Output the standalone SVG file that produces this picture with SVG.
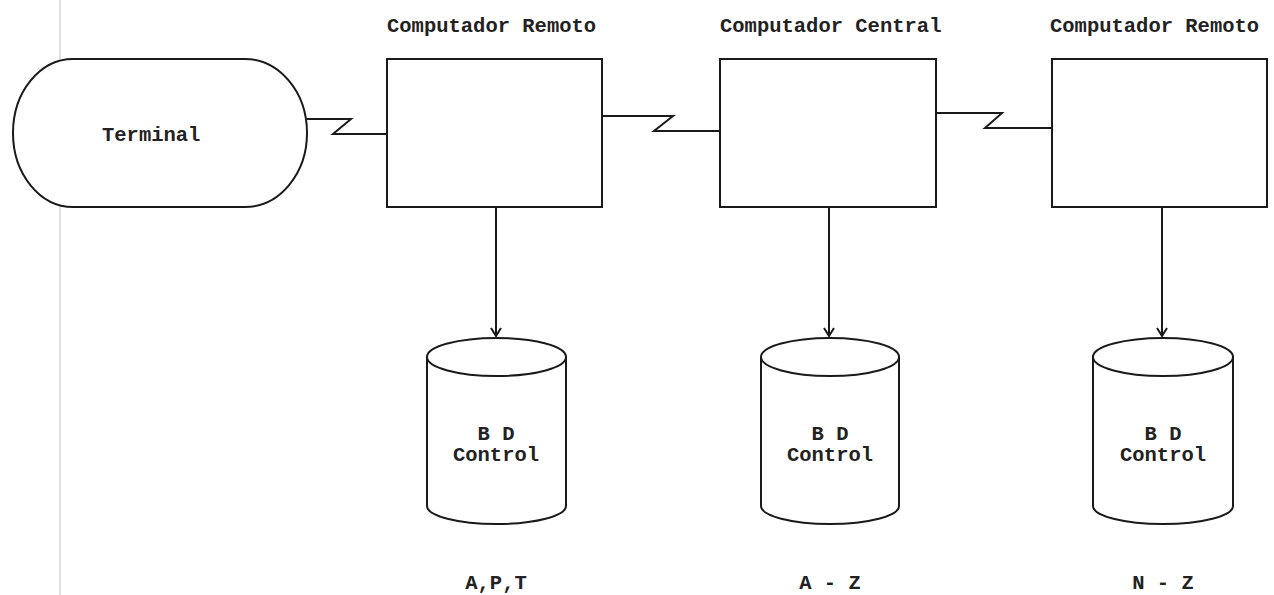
<svg xmlns="http://www.w3.org/2000/svg" width="1274" height="595" viewBox="0 0 1274 595">
  <style>
    .shape { fill: #fff; stroke: #1a1a1a; stroke-width: 2; }
    .line { fill: none; stroke: #1a1a1a; stroke-width: 2; }
    .lbl { font-family: "Liberation Mono", "DejaVu Sans Mono", monospace; font-weight: bold; font-size: 20.5px; fill: #222; }
    .mid { text-anchor: middle; }
  </style>
  <defs>
    <marker id="arr" viewBox="0 0 10 12" refX="9" refY="6" markerWidth="10" markerHeight="12" markerUnits="userSpaceOnUse" orient="auto">
      <path d="M1,1 L9,6 L1,11" fill="none" stroke="#1a1a1a" stroke-width="2"/>
    </marker>
  </defs>
  <rect width="1274" height="595" fill="#fff"/>
  <line x1="60" y1="0" x2="60" y2="595" stroke="#e2e2e2" stroke-width="2"/>

  <g id="terminal">
    <path class="shape" d="M73,59 L245,59 A62,74 0 0 1 245,207 L73,207 A60,74 0 0 1 73,59 Z"/>
    <text class="lbl" x="102" y="141">Terminal</text>
  </g>

  <g id="remoto1">
    <text class="lbl" x="387" y="32">Computador Remoto</text>
    <rect class="shape" x="387" y="59" width="215" height="148"/>
  </g>

  <g id="central">
    <text class="lbl" x="720" y="32">Computador Central</text>
    <rect class="shape" x="720" y="59" width="216" height="148"/>
  </g>

  <g id="remoto2">
    <text class="lbl" x="1050" y="32">Computador Remoto</text>
    <rect class="shape" x="1052" y="59" width="215" height="148"/>
  </g>

  <g id="bd1">
    <path class="shape" d="M427,357 A69.5,19 0 0 1 566,357 L566,506 A69.5,18 0 0 1 427,506 Z"/>
    <path class="line" d="M427,357 A69.5,19 0 0 0 566,357"/>
    <text class="lbl mid" x="496" y="440">B D</text>
    <text class="lbl mid" x="496" y="461">Control</text>
    <text class="lbl mid" x="496" y="589">A,P,T</text>
  </g>

  <g id="bd2">
    <path class="shape" d="M761,357 A69,19 0 0 1 899,357 L899,506 A69,18 0 0 1 761,506 Z"/>
    <path class="line" d="M761,357 A69,19 0 0 0 899,357"/>
    <text class="lbl mid" x="830" y="440">B D</text>
    <text class="lbl mid" x="830" y="461">Control</text>
    <text class="lbl mid" x="830" y="589">A - Z</text>
  </g>

  <g id="bd3">
    <path class="shape" d="M1093,357 A70,19 0 0 1 1233,357 L1233,506 A70,18 0 0 1 1093,506 Z"/>
    <path class="line" d="M1093,357 A70,19 0 0 0 1233,357"/>
    <text class="lbl mid" x="1163" y="440">B D</text>
    <text class="lbl mid" x="1163" y="461">Control</text>
    <text class="lbl mid" x="1163" y="589">N - Z</text>
  </g>

  <g id="connectors">
    <polyline class="line" points="307,119 351,119 333,134 387,134"/>
    <polyline class="line" points="602,116 673,116 654,131 720,131"/>
    <polyline class="line" points="936,113 1002,113 985,128 1052,128"/>
    <line class="line" x1="496" y1="207" x2="496" y2="336" marker-end="url(#arr)"/>
    <line class="line" x1="829" y1="207" x2="829" y2="336" marker-end="url(#arr)"/>
    <line class="line" x1="1162" y1="207" x2="1162" y2="336" marker-end="url(#arr)"/>
  </g>
</svg>
